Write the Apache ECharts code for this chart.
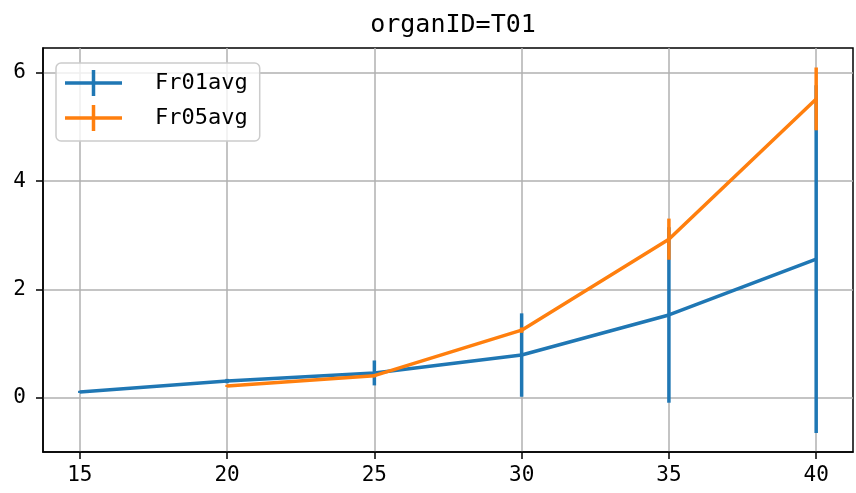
<!DOCTYPE html>
<html>
<head>
<meta charset="utf-8">
<script src="https://cdn.jsdelivr.net/npm/echarts@6/dist/echarts.min.js"></script>
<style>html,body{margin:0;padding:0;background:#fff}#c{width:856px;height:493px}</style>
</head>
<body>
<div id="c"></div>
<script>
var titleText = 'organID=T01';
var xTicks = [15, 20, 25, 30, 35, 40];
var yTicks = [0, 2, 4, 6];
var seriesNames = ['Fr01avg', 'Fr05avg'];
var x01 = [15, 20, 25, 30, 35, 40];
var y01 = [0.11, 0.31, 0.46, 0.79, 1.53, 2.56];
var e01 = [0.02, 0.04, 0.23, 0.77, 1.62, 3.21];
var x05 = [20, 25, 30, 35, 40];
var y05 = [0.22, 0.41, 1.25, 2.93, 5.52];
var e05 = [0.02, 0.03, 0.05, 0.38, 0.58];
var colors = ['#1f77b4', '#ff7f0e'];

var FONT = 'DejaVu Sans Mono';

function pts(xs, ys) { return xs.map(function (x, i) { return [x, ys[i]]; }); }
function bars(xs, ys, es) { return xs.map(function (x, i) { return [x, ys[i] - es[i], ys[i] + es[i]]; }); }

function errSeries(name, data, color, z) {
  return {
    name: name, type: 'custom', z: z,
    itemStyle: { color: color },
    data: data,
    encode: { x: 0, y: [1, 2] },
    renderItem: function (params, api) {
      var a = api.coord([api.value(0), api.value(1)]);
      var b = api.coord([api.value(0), api.value(2)]);
      return { type: 'line', shape: { x1: a[0], y1: a[1], x2: b[0], y2: b[1] },
        style: { stroke: color, lineWidth: 3.5 } };
    }
  };
}
function lineSeries(name, data, color, z) {
  return { name: name, type: 'line', z: z, data: data, showSymbol: false, symbol: 'none',
    lineStyle: { color: color, width: 3.5 }, itemStyle: { color: color }, animation: false };
}

var chart = echarts.init(document.getElementById('c'));
chart.setOption({
  animation: false,
  title: { text: titleText, left: 448, textAlign: 'center', top: 8,
    textStyle: { fontFamily: FONT, fontSize: 25, fontWeight: 'normal', color: '#000' } },
  grid: { left: 43, right: 3, top: 48, bottom: 41, show: true, borderColor: '#000', borderWidth: 1.5, backgroundColor: 'transparent' },
  legend: {
    orient: 'vertical', left: 56, top: 63,
    data: seriesNames,
    icon: 'path://M0,11.25h57v3.5h-57z M26.75,0h3.5v26h-3.5z',
    itemWidth: 57, itemHeight: 26, itemGap: 9,
    padding: [7, 12, 10, 9],
    backgroundColor: 'rgba(255,255,255,0.8)', borderColor: '#cccccc', borderWidth: 1.5, borderRadius: 5,
    itemStyle: { borderWidth: 0 },
    textStyle: { fontFamily: FONT, fontSize: 22, color: '#000', padding: [0, 0, 0, 28] }
  },
  xAxis: {
    type: 'value', min: 13.75, max: 41.25,
    axisLine: { show: true, onZero: false, lineStyle: { color: '#000', width: 1.5 } },
    axisTick: { show: true, length: 7, lineStyle: { color: '#000', width: 1.5 }, customValues: xTicks },
    axisLabel: { customValues: xTicks, fontFamily: FONT, fontSize: 21, color: '#000', margin: 13 },
    splitLine: { show: true, lineStyle: { color: '#b0b0b0', width: 1.5 } }
  },
  yAxis: {
    type: 'value', min: -1.0, max: 6.46,
    axisLine: { show: true, onZero: false, lineStyle: { color: '#000', width: 1.5 } },
    axisTick: { show: true, length: 7, lineStyle: { color: '#000', width: 1.5 }, customValues: yTicks },
    axisLabel: { customValues: yTicks, fontFamily: FONT, fontSize: 21, color: '#000', margin: 17 },
    splitLine: { show: true, lineStyle: { color: '#b0b0b0', width: 1.5 } }
  },
  series: [
    errSeries(seriesNames[0], bars(x01, y01, e01), colors[0], 2),
    errSeries(seriesNames[1], bars(x05, y05, e05), colors[1], 4),
    lineSeries(seriesNames[0], pts(x01, y01), colors[0], 2),
    lineSeries(seriesNames[1], pts(x05, y05), colors[1], 4)
  ]
});
</script>
</body>
</html>
